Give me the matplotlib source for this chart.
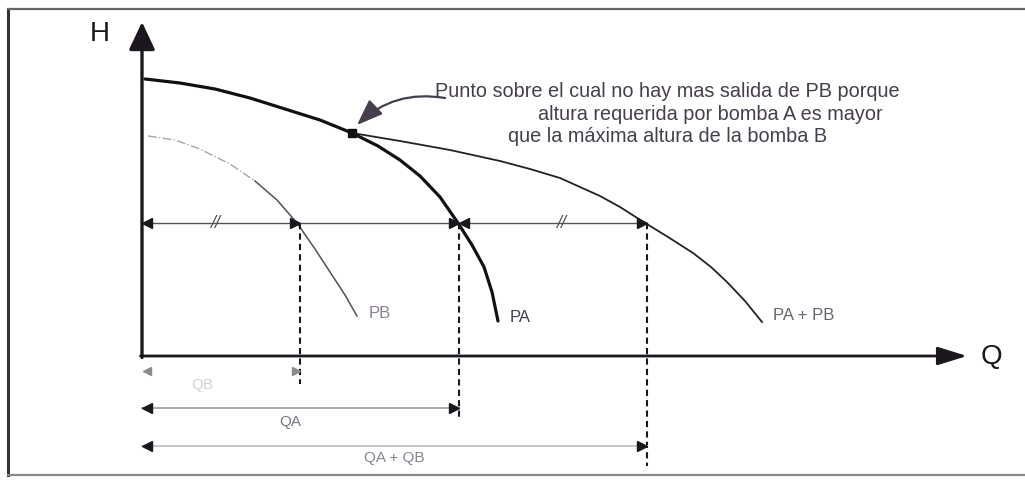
import matplotlib
matplotlib.use('Agg')
import matplotlib.pyplot as plt

plt.rcParams['font.family'] = ['Liberation Sans', 'DejaVu Sans']

# Curves (Q, H), origin at the axes corner
pa_q = [3, 38, 73, 108, 143, 178, 210, 236, 258, 278, 298, 316, 330, 342, 350, 356]
pa_h = [277, 273, 267, 258, 247, 236, 223, 210, 196, 180, 159, 133, 111, 89, 64, 35]

pab_q = [210, 258, 308, 358, 388, 418, 438, 458, 478, 500, 526, 551, 569, 585, 603, 620]
pab_h = [223, 215, 206, 195, 187, 178, 169, 160, 149, 135, 119, 103, 89, 74, 55, 34]

pb_q = [6, 33, 58, 88, 113, 135, 155, 173, 188, 203, 215]
pb_h = [220, 216, 207, 192, 175, 156, 133, 107, 84, 61, 40]

# Operating point and flows
h_op = 133
q_b = 158
q_a = 317
q_ab = 505
dot_q, dot_h = 210, 223

# Dimension rows below the Q axis
row_qb = -15
row_qa = -52
row_qab = -90

note_lines = ['Punto sobre el cual no hay mas salida de PB porque',
              'altura requerida por bomba A es mayor',
              'que la máxima altura de la bomba B']
note_x = [293, 396, 366]
note_y = [260, 237, 215]

ink = '#1c161e'
txt = '#463e4c'

fig = plt.figure(figsize=(10.25, 4.81), dpi=100)
ax = fig.add_axes([0, 0, 1, 1])
ax.set_xlim(-142, 883)
ax.set_ylim(-124, 357)
ax.axis('off')

# frame of the scanned figure
ax.plot([0.008, 0.008], [0.01, 0.98], color='#333333', lw=2.2, transform=ax.transAxes, clip_on=False)
ax.plot([0.008, 1.0], [0.98, 0.98], color='#666666', lw=1.6, transform=ax.transAxes, clip_on=False)
ax.plot([0.008, 1.0], [0.01, 0.01], color='#888888', lw=1.6, transform=ax.transAxes, clip_on=False)

# axes with arrows
ax.annotate('', xy=(0, 334), xytext=(0, -1.5),
            arrowprops=dict(arrowstyle='-|>,head_length=0.85,head_width=0.4', color=ink, lw=2.4,
                            shrinkA=0, shrinkB=0, mutation_scale=20))
ax.annotate('', xy=(825, 0), xytext=(-1.5, 0),
            arrowprops=dict(arrowstyle='-|>,head_length=0.9,head_width=0.28', color=ink, lw=2.0,
                            shrinkA=0, shrinkB=0, mutation_scale=20))
ax.text(-42, 323, 'H', fontsize=20, color=ink, ha='center', va='center')
ax.text(849, 0, 'Q', fontsize=20, color=ink, ha='center', va='center')

# pump curves
ax.plot(pb_q[:5], pb_h[:5], color='#b0a2aa', lw=1.0, ls='-.')
ax.plot(pb_q[4:], pb_h[4:], color='#555055', lw=1.1)
ax.plot(pa_q, pa_h, color='#111111', lw=2.3, solid_capstyle='round', solid_joinstyle='round')
ax.plot(pab_q, pab_h, color='#222222', lw=1.3, solid_joinstyle='round')
ax.plot([dot_q], [dot_h], marker='s', ms=6, color='#111111')

ax.text(pb_q[-1] + 12, pb_h[-1] + 4, 'PB', fontsize=12, color='#8a8090', va='center')
ax.text(pa_q[-1] + 12, pa_h[-1] + 5, 'PA', fontsize=12, color=txt, va='center')
ax.text(pab_q[-1] + 11, pab_h[-1] + 7, 'PA + PB', fontsize=12, color='#6a6270', va='center')

# horizontal construction line at the operating head
ax.plot([0, q_ab], [h_op, h_op], color='#555555', lw=1.0)
ax.plot([5], [h_op], marker='<', ms=7, color=ink, ls='none')
ax.plot([q_b - 5, q_a - 5, q_ab - 5], [h_op] * 3, marker='>', ms=7, color=ink, ls='none')
ax.plot([q_a + 5], [h_op], marker='<', ms=7, color=ink, ls='none')
ax.text(q_b / 2 - 6, h_op, '//', fontsize=13, style='italic', color='#555555', ha='center', va='center')
ax.text((q_a + q_ab) / 2 + 8, h_op, '//', fontsize=13, style='italic', color='#555555', ha='center', va='center')

# dashed verticals down to the flows
ax.plot([q_b, q_b], [h_op, row_qb - 13], color=ink, lw=1.5, ls=(0, (3, 2)))
ax.plot([q_a, q_a], [h_op, row_qa - 11], color=ink, lw=1.5, ls=(0, (3, 2)))
ax.plot([q_ab, q_ab], [h_op, row_qab - 20], color=ink, lw=1.5, ls=(0, (3, 2)))

# flow dimension rows
ax.plot([5], [row_qb], marker='<', ms=6, color='#8a8a8a', ls='none')
ax.plot([q_b - 4], [row_qb], marker='>', ms=6, color='#8a8a8a', ls='none')
ax.text(60, row_qb - 13, 'QB', fontsize=11, color='#d4d0d6', ha='center', va='center')

ax.plot([0, q_a], [row_qa, row_qa], color='#a8a2aa', lw=1.3)
ax.plot([5], [row_qa], marker='<', ms=7, color=ink, ls='none')
ax.plot([q_a - 5], [row_qa], marker='>', ms=7, color=ink, ls='none')
ax.text(148, row_qa - 13, 'QA', fontsize=11, color='#7a7280', ha='center', va='center')

ax.plot([0, q_ab], [row_qab, row_qab], color='#c4bec6', lw=1.3)
ax.plot([5], [row_qab], marker='<', ms=7, color=ink, ls='none')
ax.plot([q_ab - 5], [row_qab], marker='>', ms=7, color=ink, ls='none')
ax.text(252, row_qab - 11, 'QA + QB', fontsize=11, color='#8a8290', ha='center', va='center')

# note with curved arrow to the point
for s, x, y in zip(note_lines, note_x, note_y):
    ax.text(x, y, s, fontsize=14.3, color=txt, ha='left', va='baseline')
ax.annotate('', xy=(dot_q + 5, dot_h + 8), xytext=(note_x[0] + 10, note_y[0] - 2),
            arrowprops=dict(arrowstyle='-|>,head_length=0.8,head_width=0.3', color=txt, lw=1.6,
                            connectionstyle='arc3,rad=0.25', shrinkA=0, shrinkB=0, mutation_scale=20))

fig.savefig('out.png', dpi=100)
